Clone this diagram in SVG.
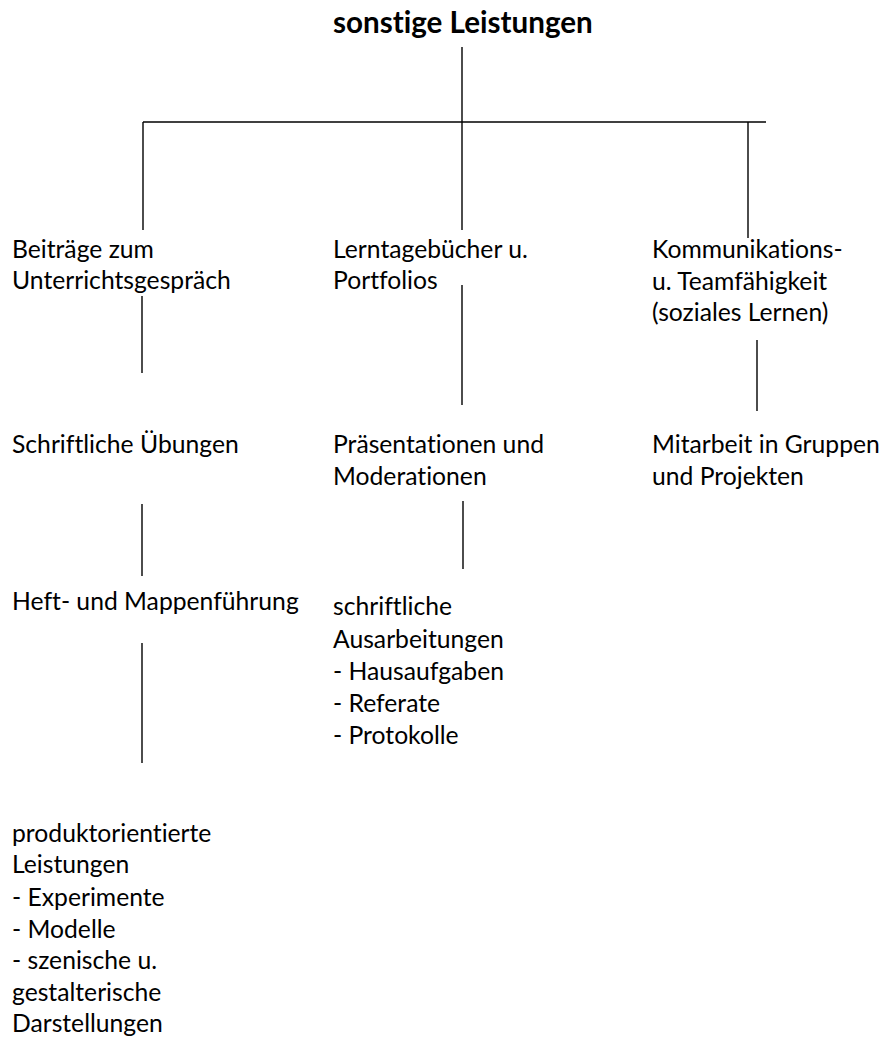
<svg xmlns="http://www.w3.org/2000/svg" width="882" height="1043" viewBox="0 0 882 1043">
<style>
text{font-family:Lato,"Liberation Sans",sans-serif;font-size:24.7px;fill:#000;font-variant-ligatures:none}
.title{font-weight:bold;font-size:29.6px}
.c line{stroke:#000;stroke-width:1.4}
</style>
<rect width="882" height="1043" fill="#fff"/>
<g class="c" id="connectors">
<line x1="462" y1="47" x2="462" y2="230"/>
<line x1="143" y1="122" x2="766" y2="122"/>
<line x1="143" y1="122" x2="143" y2="230"/>
<line x1="748" y1="122" x2="748" y2="238"/>
<line x1="142" y1="296" x2="142" y2="373"/>
<line x1="462" y1="285" x2="462" y2="405"/>
<line x1="757" y1="340" x2="757" y2="411"/>
<line x1="142" y1="504" x2="142" y2="576"/>
<line x1="463" y1="501" x2="463" y2="569"/>
<line x1="142" y1="643" x2="142" y2="763"/>
</g>
<g id="root"><text class="title" x="333" y="33">sonstige Leistungen</text></g>
<g id="n1"><text x="12" y="258">Beiträge zum</text><text x="12" y="289">Unterrichtsgespräch</text></g>
<g id="n2"><text x="333" y="258">Lerntagebücher u.</text><text x="333" y="289">Portfolios</text></g>
<g id="n3"><text x="652" y="258">Kommunikations-</text><text x="652" y="290">u. Teamfähigkeit</text><text x="652" y="321">(soziales Lernen)</text></g>
<g id="n4"><text x="12" y="453">Schriftliche Übungen</text></g>
<g id="n5"><text x="333" y="453">Präsentationen und</text><text x="333" y="485">Moderationen</text></g>
<g id="n6"><text x="652" y="453">Mitarbeit in Gruppen</text><text x="652" y="485">und Projekten</text></g>
<g id="n7"><text x="12" y="610">Heft- und Mappenführung</text></g>
<g id="n8"><text x="333" y="615">schriftliche</text><text x="333" y="648">Ausarbeitungen</text><text x="333" y="680">- Hausaufgaben</text><text x="333" y="712">- Referate</text><text x="333" y="744">- Protokolle</text></g>
<g id="n9"><text x="12" y="842">produktorientierte</text><text x="12" y="873">Leistungen</text><text x="12" y="906">- Experimente</text><text x="12" y="938">- Modelle</text><text x="12" y="969">- szenische u.</text><text x="12" y="1001">gestalterische</text><text x="12" y="1032">Darstellungen</text></g>
</svg>
